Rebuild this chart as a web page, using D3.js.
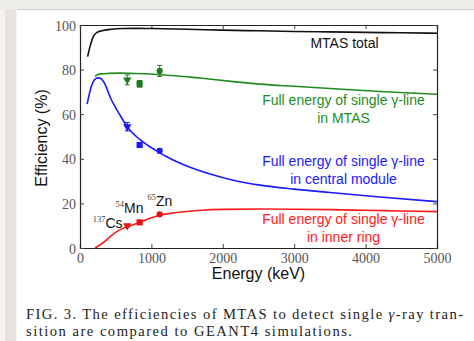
<!DOCTYPE html>
<html><head><meta charset="utf-8">
<script src="https://cdn.jsdelivr.net/npm/d3@7"></script>
<style>body{margin:0;background:#fff;}svg{display:block;}</style>
</head><body>
<svg id="c" width="474" height="341"></svg>
<script>
// ---- data ----
const xTicks = [0, 1000, 2000, 3000, 4000, 5000];
const yTicks = [0, 20, 40, 60, 80, 100];

const totalE   = [107, 140, 187, 233, 303, 443, 600, 800, 1000, 1500, 2000, 2500, 3000, 3500, 4000, 4500, 5000];
const totalV   = [85.8, 90.3, 94.8, 96.6, 97.4, 98.1, 98.4, 98.5, 98.4, 98.1, 97.7, 97.4, 97.1, 96.9, 96.7, 96.5, 96.3];

const mtasE    = [210, 250, 300, 400, 560, 700, 1000, 1120, 1500, 1681, 2147, 2521, 3000, 3500, 4200, 5000];
const mtasV    = [77.0, 77.8, 78.1, 78.3, 78.4, 78.3, 78.0, 77.7, 76.8, 76.2, 74.6, 73.5, 72.5, 71.5, 70.2, 68.9];

const centralE = [100, 130, 160, 200, 250, 290, 350, 420, 560, 677, 840, 1050, 1214, 1494, 1821, 2147, 2521, 3000, 3500, 4200, 5000];
const centralV = [64.5, 69.0, 72.5, 75.3, 76.3, 76.0, 73.5, 67.8, 59.6, 53.7, 48.6, 44.0, 40.9, 36.8, 33.2, 30.4, 28.2, 26.4, 24.9, 22.9, 20.8];

const innerE   = [210, 300, 420, 500, 600, 668, 840, 1000, 1120, 1300, 1500, 1700, 2000, 2500, 3000, 3500, 4000, 4500, 5000];
const innerV   = [0, 1.8, 5.0, 7.0, 8.8, 9.6, 11.5, 13.6, 14.7, 15.7, 16.4, 16.9, 17.3, 17.5, 17.4, 17.2, 16.9, 16.6, 16.3];

const isotopes = ["137Cs", "54Mn", "65Zn"];
const isoMass  = ["137", "54", "65"];
const isoSym   = ["Cs", "Mn", "Zn"];
const isoE     = [662, 835, 1116];
const markers  = ["triangle", "square", "circle"];

const expMtas     = [75.4, 73.6, 79.4];
const expMtasErr  = [2.2, 1.5, 2.5];
const expCentral  = [54.4, 46.2, 43.6];
const expCentralErr = [1.9, 1.0, 1.0];
const expInner    = [10.0, 11.5, 15.1];
const expInnerErr = [0.6, 0.6, 0.6];

const labelTotal   = ["MTAS total"];
const labelMtas    = ["Full energy of single γ-line", "in MTAS"];
const labelCentral = ["Full energy of single γ-line", "in central module"];
const labelInner   = ["Full energy of single γ-line", "in inner ring"];

const xTitle = "Energy (keV)";
const yTitle = "Efficiency (%)";

// ---- drawing ----
const svg = d3.select("#c");
// page chrome (screenshot of a document viewer)
svg.append("rect").attr("x",0).attr("y",0).attr("width",474).attr("height",341).attr("fill","#ffffff");
svg.append("rect").attr("x",0).attr("y",0).attr("width",474).attr("height",9).attr("fill","#efedea");
svg.append("rect").attr("x",0).attr("y",9).attr("width",17).attr("height",332).attr("fill","#f4f2ef");
svg.append("rect").attr("x",5).attr("y",9).attr("width",11).attr("height",332).attr("fill","#e7e4df");
svg.append("line").attr("x1",17).attr("x2",474).attr("y1",9.5).attr("y2",9.5).attr("stroke","#cfccc7");

const L = 80, R = 437, T = 25, B = 248;
const x = d3.scaleLinear().domain([0, 5000]).range([L, R]);
const y = d3.scaleLinear().domain([0, 100]).range([B, T]);

const g = svg.append("g");
const tickFont = "Liberation Serif, Times New Roman, DejaVu Serif, serif";

// axes with inward ticks
const axB = g.append("g").attr("transform",`translate(0,${B})`)
  .call(d3.axisBottom(x).tickValues(xTicks).tickSize(-4).tickPadding(5).tickFormat(d3.format("d")));
const axL = g.append("g").attr("transform",`translate(${L},0)`)
  .call(d3.axisLeft(y).tickValues(yTicks).tickSize(-4).tickPadding(4).tickFormat(d3.format("d")));
const axT = g.append("g").attr("transform",`translate(0,${T})`)
  .call(d3.axisTop(x).tickValues(xTicks).tickSize(-4).tickFormat(""));
const axR = g.append("g").attr("transform",`translate(${R},0)`)
  .call(d3.axisRight(y).tickValues(yTicks).tickSize(-4).tickFormat(""));
[axB, axL, axT, axR].forEach(a => {
  a.attr("font-family", tickFont).attr("font-size", 14);
  a.select(".domain").attr("stroke","#222").attr("stroke-width",1.2);
  a.selectAll(".tick line").attr("stroke","#444");
  a.selectAll("text").attr("font-family",tickFont).attr("font-size",14).attr("fill","#555");
});
axL.selectAll(".tick text").attr("dy","0.36em");

// curves
const line = d3.line().x(d => x(d[0])).y(d => y(d[1])).curve(d3.curveMonotoneX);
const curves = [
  [totalE, totalV, "#111111"],
  [mtasE, mtasV, "#1e8c1e"],
  [centralE, centralV, "#1a1aff"],
  [innerE, innerV, "#ff1a1a"]
];
curves.forEach(([es, vs, col]) => {
  g.append("path").datum(es.map((e,i)=>[e, vs[i]]))
    .attr("d", line).attr("fill","none").attr("stroke",col).attr("stroke-width",1.6);
});

// experimental points
const sym = {
  triangle: d3.symbol().type(d3.symbolTriangle).size(30),
  square: d3.symbol().type(d3.symbolSquare).size(38),
  circle: d3.symbol().type(d3.symbolCircle).size(30)
};
function points(vals, errs, col){
  isoE.forEach((e,i)=>{
    const cx = x(e), cy = y(vals[i]);
    const y1 = y(vals[i]-errs[i]), y2 = y(vals[i]+errs[i]);
    g.append("line").attr("x1",cx).attr("x2",cx).attr("y1",y1).attr("y2",y2).attr("stroke",col).attr("stroke-width",1);
    [y1,y2].forEach(yy=>g.append("line").attr("x1",cx-2.5).attr("x2",cx+2.5).attr("y1",yy).attr("y2",yy).attr("stroke",col).attr("stroke-width",1));
    g.append("path").attr("d", sym[markers[i]]())
      .attr("transform", `translate(${cx},${cy})` + (markers[i]==="triangle" ? " rotate(180)" : ""))
      .attr("fill",col);
  });
}
points(expMtas, expMtasErr, "#1e7a1e");
points(expCentral, expCentralErr, "#1a1aff");
points(expInner, expInnerErr, "#e81010");

// isotope labels
const sans = "Liberation Sans, Arial, sans-serif";
const isoDx = [-34.6, -24, -12.3];
const isoDy = [2.3, -9, -8.3];
isoE.forEach((e,i)=>{
  const t = g.append("text").attr("x", x(e)+isoDx[i]).attr("y", y(expInner[i])+isoDy[i])
    .attr("font-family",sans).attr("font-size",14).attr("fill","#111");
  t.append("tspan").attr("font-family",tickFont).attr("font-size",8.5).attr("fill","#444").attr("dy",-6).text(isoMass[i]);
  t.append("tspan").attr("dy",6).text(isoSym[i]);
});

// series labels
function label(lines, cx, y0, col){
  lines.forEach((s,i)=>g.append("text").attr("x",cx).attr("y",y0+i*18)
    .attr("text-anchor","middle").attr("font-family",sans).attr("font-size",14).attr("fill",col).text(s));
}
label(labelTotal, 344.5, 48, "#111");
label(labelMtas, 343.5, 105, "#1e8c1e");
label(labelCentral, 343.5, 165.5, "#1a1aff");
label(labelInner, 343.5, 224, "#ff1a1a");

// axis titles
g.append("text").attr("x", 258.5).attr("y", 279).attr("text-anchor","middle")
  .attr("font-family",sans).attr("font-size",16).attr("fill","#111").text(xTitle);
g.append("text").attr("transform","translate(47,138) rotate(-90)").attr("text-anchor","middle")
  .attr("font-family",sans).attr("font-size",16).attr("fill","#111").text(yTitle);

// caption
const cap = svg.append("g").attr("font-family",tickFont).attr("font-size",14.6).attr("fill","#222");
const c1 = cap.append("text").attr("x",26).attr("y",319).attr("textLength",437).attr("lengthAdjust","spacing");
c1.append("tspan").text("FIG. 3. The efficiencies of MTAS to detect single ");
c1.append("tspan").attr("font-style","italic").text("γ");
c1.append("tspan").text("-ray tran-");
cap.append("text").attr("x",26).attr("y",335.5).attr("textLength",326).attr("lengthAdjust","spacing")
  .text("sition are compared to GEANT4 simulations.");
</script>
</body></html>
